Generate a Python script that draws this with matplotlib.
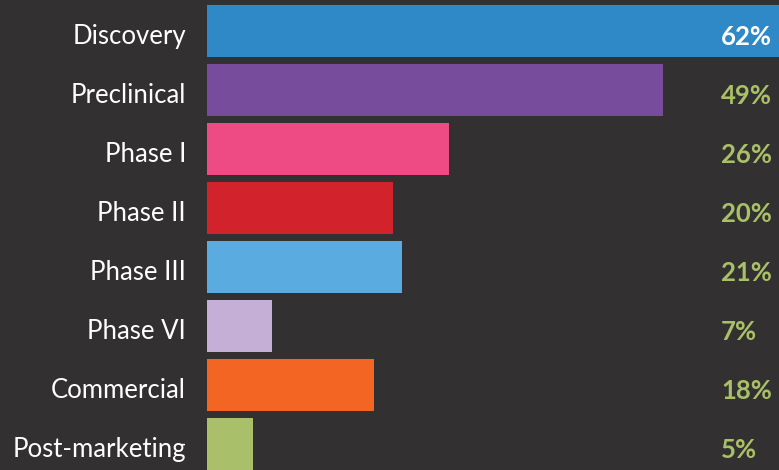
import matplotlib
matplotlib.use("Agg")
import matplotlib.pyplot as plt

categories = ["Discovery", "Preclinical", "Phase I", "Phase II", "Phase III",
              "Phase VI", "Commercial", "Post-marketing"]
values = [62, 49, 26, 20, 21, 7, 18, 5]
labels = ["62%", "49%", "26%", "20%", "21%", "7%", "18%", "5%"]
colors = ["#3089c7", "#774c9c", "#ee4a83", "#d2232d", "#5aabdf",
          "#c5afd6", "#f26522", "#aabf6a"]

bg = "#323031"
fig = plt.figure(figsize=(7.79, 4.70), dpi=100, facecolor=bg)
ax = fig.add_axes([207/779, 0, 572/779, 1])
ax.set_facecolor(bg)

y = list(range(len(categories)))
ax.barh(y, values, height=0.88, color=colors)
ax.set_xlim(0, 572/9.3)
ax.set_ylim(7.44, -0.525)
for s in ax.spines.values():
    s.set_visible(False)
ax.set_xticks([])
ax.set_yticks([])

fam = ["Lato", "DejaVu Sans"]
xlab = (721-207)/9.3
for i, (c, l) in enumerate(zip(categories, labels)):
    ax.text(-21/9.3, i + 0.1, c, ha="right", va="center", color="white",
            fontsize=18.5, family=fam, clip_on=False)
    ax.text(xlab, i + 0.1, l, ha="left", va="center",
            color="white" if i == 0 else "#a9c066",
            fontsize=18.5, fontweight="bold", family=fam)

fig.savefig("out.png", dpi=100, facecolor=bg)
